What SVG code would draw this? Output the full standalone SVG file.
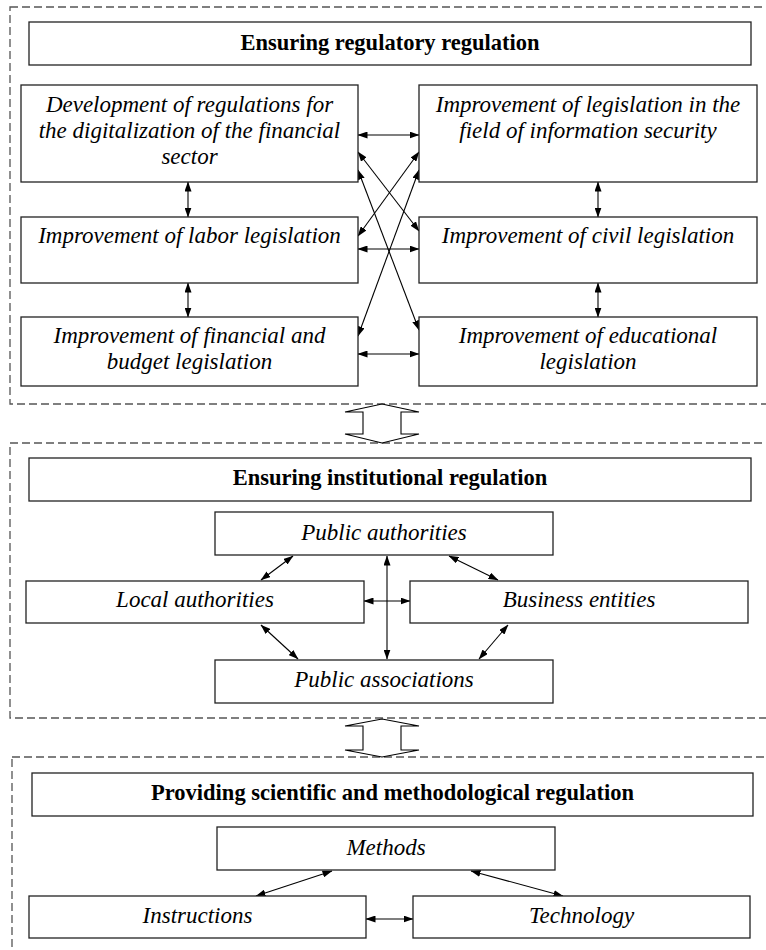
<svg xmlns="http://www.w3.org/2000/svg" width="766" height="950" viewBox="0 0 766 950">
<style>
.sec{fill:none;stroke:#555;stroke-width:1.3;stroke-dasharray:8,4}
.box{fill:#fff;stroke:#222;stroke-width:1.3}
.ti{font-family:"Liberation Serif","Times New Roman",serif;font-size:22.5px;font-weight:bold;text-anchor:middle;fill:#000}
.tx{font-family:"Liberation Serif","Times New Roman",serif;font-size:23px;font-style:italic;text-anchor:middle;fill:#000}
.ln{fill:none;stroke:#000;stroke-width:1.1;marker-start:url(#ah);marker-end:url(#ah)}
.big{fill:#fff;stroke:#000;stroke-width:1.1}
</style>
<defs>
<marker id="ah" markerUnits="userSpaceOnUse" markerWidth="10" markerHeight="7" refX="9.5" refY="3.5" orient="auto-start-reverse">
<path d="M0,0 L10,3.5 L0,7 z" fill="#000"/>
</marker>
</defs>
<rect width="766" height="950" fill="#fff"/>
<g id="sections">
<rect class="sec" x="10" y="7" width="775" height="397"/>
<rect class="sec" x="10" y="443" width="775" height="275"/>
<rect class="sec" x="12" y="757" width="775" height="220"/>
</g>
<g id="connectors">
<polygon class="big" points="382,404 419,412 401,412 401,434 419,434 382,443 345,434 363,434 363,412 345,412"/>
<polygon class="big" points="382,719 419,726 401,726 401,750 419,750 382,757 345,750 363,750 363,726 345,726"/>
<line class="ln" x1="188" y1="182" x2="188" y2="217"/>
<line class="ln" x1="188" y1="283" x2="188" y2="317"/>
<line class="ln" x1="598" y1="182" x2="598" y2="217"/>
<line class="ln" x1="598" y1="283" x2="598" y2="317"/>
<line class="ln" x1="358" y1="135" x2="419" y2="135"/>
<line class="ln" x1="358" y1="249" x2="419" y2="249"/>
<line class="ln" x1="358" y1="354" x2="419" y2="354"/>
<line class="ln" x1="358" y1="152" x2="419" y2="231"/>
<line class="ln" x1="358" y1="170" x2="419" y2="330"/>
<line class="ln" x1="419" y1="152" x2="358" y2="236"/>
<line class="ln" x1="419" y1="170" x2="358" y2="336"/>
<line class="ln" x1="293" y1="556" x2="261" y2="580"/>
<line class="ln" x1="449" y1="556" x2="498" y2="580"/>
<line class="ln" x1="387" y1="556" x2="387" y2="659"/>
<line class="ln" x1="364" y1="601" x2="410" y2="601"/>
<line class="ln" x1="261" y1="625" x2="298" y2="659"/>
<line class="ln" x1="508" y1="625" x2="479" y2="659"/>
<line class="ln" x1="332" y1="871" x2="256" y2="896"/>
<line class="ln" x1="471" y1="871" x2="563" y2="896"/>
<line class="ln" x1="366" y1="919" x2="413" y2="919"/>
</g>
<g id="title1"><rect class="box" x="29" y="22" width="722" height="43"/><text class="ti" x="390" y="50">Ensuring regulatory regulation</text></g>
<g id="n-digital"><rect class="box" x="21" y="85" width="337" height="97"/>
<text class="tx" x="189.5" y="111.5">Development of regulations for</text>
<text class="tx" x="189.5" y="137.5">the digitalization of the financial</text>
<text class="tx" x="189.5" y="163.5">sector</text></g>
<g id="n-infosec"><rect class="box" x="419" y="85" width="338" height="97"/>
<text class="tx" x="588" y="111.5">Improvement of legislation in the</text>
<text class="tx" x="588" y="137.5">field of information security</text></g>
<g id="n-labor"><rect class="box" x="21" y="217" width="337" height="66"/>
<text class="tx" x="189.5" y="243">Improvement of labor legislation</text></g>
<g id="n-civil"><rect class="box" x="419" y="217" width="338" height="66"/>
<text class="tx" x="588" y="243">Improvement of civil legislation</text></g>
<g id="n-financial"><rect class="box" x="21" y="317" width="337" height="69"/>
<text class="tx" x="189.5" y="343">Improvement of financial and</text>
<text class="tx" x="189.5" y="369">budget legislation</text></g>
<g id="n-educational"><rect class="box" x="419" y="317" width="338" height="69"/>
<text class="tx" x="588" y="343">Improvement of educational</text>
<text class="tx" x="588" y="369">legislation</text></g>
<g id="title2"><rect class="box" x="29" y="458" width="722" height="43"/><text class="ti" x="390" y="485">Ensuring institutional regulation</text></g>
<g id="n-public-auth"><rect class="box" x="215" y="512" width="338" height="43"/><text class="tx" x="384" y="539.5">Public authorities</text></g>
<g id="n-local"><rect class="box" x="26" y="581" width="338" height="42"/><text class="tx" x="195" y="607">Local authorities</text></g>
<g id="n-business"><rect class="box" x="410" y="581" width="338" height="42"/><text class="tx" x="579" y="607">Business entities</text></g>
<g id="n-assoc"><rect class="box" x="215" y="660" width="338" height="43"/><text class="tx" x="384" y="687">Public associations</text></g>
<g id="title3"><rect class="box" x="32" y="773" width="721" height="43"/><text class="ti" x="392.5" y="799.5">Providing scientific and methodological regulation</text></g>
<g id="n-methods"><rect class="box" x="217" y="827" width="338" height="43"/><text class="tx" x="386" y="855">Methods</text></g>
<g id="n-instructions"><rect class="box" x="29" y="896" width="337" height="42"/><text class="tx" x="197.5" y="922.5">Instructions</text></g>
<g id="n-technology"><rect class="box" x="413" y="896" width="337" height="42"/><text class="tx" x="581.5" y="922.5">Technology</text></g>
</svg>
